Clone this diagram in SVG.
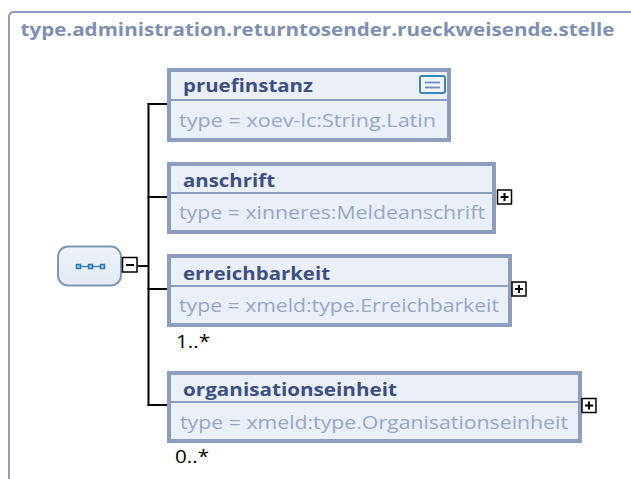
<svg xmlns="http://www.w3.org/2000/svg" width="631" height="479" viewBox="0 0 631 479">
<style>
.frame{fill:none;stroke:#8d9dbd;stroke-width:2}
.title{font-family:"Open Sans","Liberation Sans",sans-serif;font-weight:bold;font-size:17.5px;fill:#7f8fb1}
.box{fill:#eaeff8;stroke:#8d9dbd;stroke-width:4}
.div{stroke:#8d9dbd;stroke-width:2}
.name{font-family:"Open Sans","Liberation Sans",sans-serif;font-weight:bold;font-size:18.5px;fill:#3f4f82}
.type{font-family:"Open Sans","Liberation Sans",sans-serif;font-size:19px;fill:#98a7c6}
.card{font-family:"Open Sans","Liberation Sans",sans-serif;font-size:18px;fill:#000}
.conn{fill:none;stroke:#000;stroke-width:2}
.tog{fill:#fff;stroke:#000;stroke-width:1.5}
.sign{stroke:#000;stroke-width:2}
</style>
<defs>
<linearGradient id="seqg" x1="0" y1="0" x2="0" y2="1">
<stop offset="0" stop-color="#eef2f9"/>
<stop offset="1" stop-color="#e3eaf5"/>
</linearGradient>
</defs>
<path class="frame" d="M9,480 L9,17 Q9,12 14,12 L632,12"/>
<text class="title" x="20.5" y="36" textLength="594" lengthAdjust="spacingAndGlyphs">type.administration.returntosender.rueckweisende.stelle</text>

<g id="connectors">
<line class="conn" x1="138" y1="266" x2="149" y2="266"/>
<line class="conn" x1="148.5" y1="103" x2="148.5" y2="406"/>
<line class="conn" x1="147.5" y1="104" x2="168" y2="104"/>
<line class="conn" x1="147.5" y1="197" x2="168" y2="197"/>
<line class="conn" x1="147.5" y1="289" x2="168" y2="289"/>
<line class="conn" x1="147.5" y1="405" x2="168" y2="405"/>
</g>

<g id="sequence">
<rect x="58" y="246.5" width="63" height="39" rx="10" fill="url(#seqg)" stroke="#7f97b7" stroke-width="2"/>
<line x1="78" y1="266.5" x2="103" y2="266.5" stroke="#2a7ab0" stroke-width="1.2"/>
<rect x="76.5" y="264.5" width="4" height="4" fill="#a8c8e0" stroke="#2a7ab0" stroke-width="1.5"/>
<rect x="88.5" y="264.5" width="4" height="4" fill="#a8c8e0" stroke="#2a7ab0" stroke-width="1.5"/>
<rect x="100.5" y="264.5" width="4" height="4" fill="#a8c8e0" stroke="#2a7ab0" stroke-width="1.5"/>
<rect class="tog" x="122.5" y="257.5" width="14.5" height="14.5"/>
<line class="sign" x1="126" y1="265" x2="134" y2="265"/>
</g>

<g id="pruefinstanz">
<rect class="box" x="169" y="70" width="280" height="70"/>
<line class="div" x1="171" y1="100" x2="447" y2="100"/>
<text class="name" x="183" y="92" textLength="130" lengthAdjust="spacingAndGlyphs">pruefinstanz</text>
<text class="type" x="179" y="127" textLength="257" lengthAdjust="spacingAndGlyphs">type = xoev-lc:String.Latin</text>
<rect x="420" y="76" width="25" height="17" rx="2" fill="#f2f6fb" stroke="#3a86b8" stroke-width="2"/>
<line x1="425" y1="82.5" x2="440" y2="82.5" stroke="#6d8fc0" stroke-width="1.8"/>
<line x1="425" y1="87.5" x2="440" y2="87.5" stroke="#6d8fc0" stroke-width="1.8"/>
</g>

<g id="anschrift">
<rect class="box" x="169" y="164" width="325" height="68"/>
<line class="div" x1="171" y1="193" x2="492" y2="193"/>
<text class="name" x="183" y="187" textLength="92" lengthAdjust="spacingAndGlyphs">anschrift</text>
<text class="type" x="179" y="219" textLength="306" lengthAdjust="spacingAndGlyphs">type = xinneres:Meldeanschrift</text>
<rect class="tog" x="497.5" y="190" width="14" height="14"/>
<line class="sign" x1="500.5" y1="197" x2="508.5" y2="197"/>
<line class="sign" x1="504.5" y1="193" x2="504.5" y2="201"/>
</g>

<g id="erreichbarkeit">
<rect class="box" x="169" y="256" width="341" height="69"/>
<line class="div" x1="171" y1="286" x2="508" y2="286"/>
<text class="name" x="183" y="280" textLength="147" lengthAdjust="spacingAndGlyphs">erreichbarkeit</text>
<text class="type" x="179" y="312" textLength="320" lengthAdjust="spacingAndGlyphs">type = xmeld:type.Erreichbarkeit</text>
<rect class="tog" x="512" y="282" width="14" height="14"/>
<line class="sign" x1="515" y1="289" x2="523" y2="289"/>
<line class="sign" x1="519" y1="285" x2="519" y2="293"/>
<text class="card" x="176" y="348" textLength="34" lengthAdjust="spacingAndGlyphs">1..*</text>
</g>

<g id="organisationseinheit">
<rect class="box" x="169" y="373" width="411" height="68"/>
<line class="div" x1="171" y1="402" x2="578" y2="402"/>
<text class="name" x="183" y="396" textLength="214" lengthAdjust="spacingAndGlyphs">organisationseinheit</text>
<text class="type" x="180" y="429" textLength="388" lengthAdjust="spacingAndGlyphs">type = xmeld:type.Organisationseinheit</text>
<rect class="tog" x="582" y="398.5" width="14" height="14"/>
<line class="sign" x1="585" y1="405.5" x2="593" y2="405.5"/>
<line class="sign" x1="589" y1="401.5" x2="589" y2="409.5"/>
<text class="card" x="175" y="463" textLength="34" lengthAdjust="spacingAndGlyphs">0..*</text>
</g>
</svg>
